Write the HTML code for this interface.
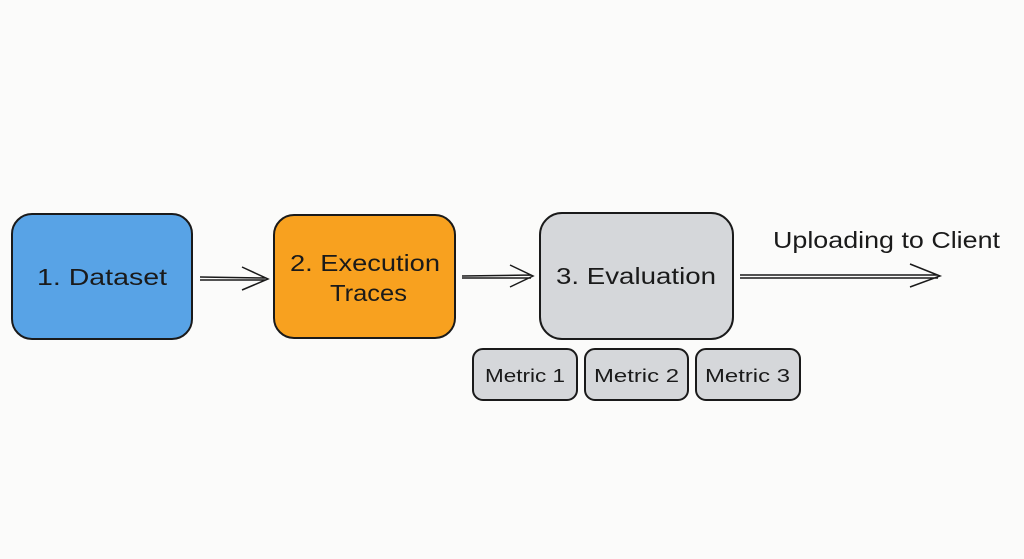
<!DOCTYPE html>
<html><head><style>
html,body{margin:0;padding:0;background:#fbfbfa;}
svg{display:block}
text{font-family:"Liberation Sans",sans-serif;fill:#1a1a1a;}
</style></head><body>
<svg width="1024" height="559" viewBox="0 0 1024 559" xmlns="http://www.w3.org/2000/svg">
<rect width="1024" height="559" fill="#fbfbfa"/>
<g stroke="#1a1a1a" stroke-width="2" fill="none">
<rect x="12" y="214" width="180" height="125" rx="20" fill="#58a3e6"/>
<rect x="274" y="215" width="181" height="123" rx="20" fill="#f8a11f"/>
<rect x="540" y="213" width="193" height="126" rx="22" fill="#d5d7da"/>
<rect x="473" y="349" width="104" height="51" rx="10" fill="#d5d7da"/>
<rect x="585" y="349" width="103" height="51" rx="10" fill="#d5d7da"/>
<rect x="696" y="349" width="104" height="51" rx="10" fill="#d5d7da"/>
<g stroke-width="1.5">
<path d="M200 277 L266 278 M200 280 L266 280 M242 267 L268 279 L242 290"/>
<path d="M462 276 L531 275 M462 278 L531 278 M510 265 L533 276 L510 287"/>
<path d="M740 275 L938 275 M740 278 L938 278 M910 264 L940 276 L910 287"/>
</g>
</g>
<text x="37" y="285" font-size="23" textLength="130" lengthAdjust="spacingAndGlyphs">1. Dataset</text>
<text x="290" y="271" font-size="23" textLength="150" lengthAdjust="spacingAndGlyphs">2. Execution</text>
<text x="330" y="301" font-size="23" textLength="77" lengthAdjust="spacingAndGlyphs">Traces</text>
<text x="556" y="284" font-size="23" textLength="160" lengthAdjust="spacingAndGlyphs">3. Evaluation</text>
<text x="485" y="382" font-size="18" textLength="80" lengthAdjust="spacingAndGlyphs">Metric 1</text>
<text x="594" y="382" font-size="18" textLength="85" lengthAdjust="spacingAndGlyphs">Metric 2</text>
<text x="705" y="382" font-size="18" textLength="85" lengthAdjust="spacingAndGlyphs">Metric 3</text>
<text x="773" y="248" font-size="23" textLength="227" lengthAdjust="spacingAndGlyphs">Uploading to Client</text>
</svg>
</body></html>
